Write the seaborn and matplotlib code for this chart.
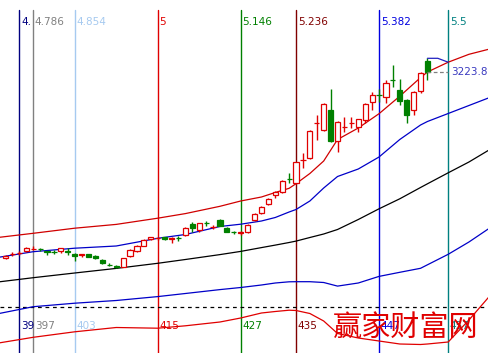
import numpy as np
import pandas as pd
import matplotlib
matplotlib.use("Agg")
import matplotlib.pyplot as plt
import seaborn as sns

# ---------------- data ----------------
first_bar = 393
opens = [2664.9, 2675.4, 2678.4, 2685.9, 2691.0, 2691.9, 2684.4, 2682.9, 2685.9, 2684.4,
         2676.0, 2674.5, 2677.8, 2670.9, 2658.9, 2644.5, 2639.4, 2638.8, 2670.9, 2686.8,
         2700.9, 2721.9, 2723.4, 2726.4, 2721.9, 2724.9, 2733.9, 2766.0, 2748.9, 2769.9,
         2757.9, 2778.9, 2755.8, 2742.9, 2740.5, 2743.8, 2778.9, 2799.0, 2826.0, 2852.4,
         2863.8, 2901.9, 2889.0, 2958.0, 2964.9, 3068.4, 3048.9, 3108.9, 3016.8, 3057.9,
         3068.4, 3058.8, 3078.9, 3133.8, 3154.5, 3148.8, 3199.5, 3168.9, 3138.9, 3108.9,
         3165.9, 3255.9]
closes = [2669.4, 2676.9, 2679.9, 2695.8, 2691.9, 2690.4, 2682.9, 2681.4, 2694.0, 2682.9,
          2670.9, 2676.9, 2668.8, 2664.0, 2649.0, 2643.0, 2637.9, 2664.0, 2688.9, 2700.9,
          2718.9, 2726.4, 2724.3, 2721.0, 2725.5, 2723.4, 2754.9, 2754.0, 2769.0, 2768.4,
          2758.8, 2761.8, 2743.8, 2741.4, 2742.9, 2763.9, 2796.9, 2818.8, 2841.9, 2863.8,
          2896.8, 2900.4, 2952.0, 2958.9, 3045.9, 3069.3, 3126.9, 3016.8, 3072.0, 3058.8,
          3069.3, 3081.0, 3126.0, 3153.9, 3153.3, 3189.0, 3198.3, 3136.8, 3093.9, 3163.8,
          3220.8, 3223.8]
highs = [2672.4, 2682.9, 2685.9, 2697.9, 2699.4, 2694.9, 2684.4, 2687.4, 2694.9, 2694.9,
         2678.4, 2676.9, 2677.8, 2673.9, 2660.4, 2648.4, 2642.4, 2664.9, 2691.9, 2702.4,
         2720.4, 2727.9, 2727.9, 2727.9, 2726.4, 2730.9, 2756.4, 2773.8, 2769.9, 2775.9,
         2762.4, 2780.4, 2756.4, 2745.9, 2744.4, 2765.4, 2798.4, 2820.9, 2843.4, 2865.9,
         2898.9, 2919.9, 2952.9, 2979.9, 3047.4, 3093.9, 3128.4, 3171.0, 3074.4, 3087.0,
         3087.0, 3081.9, 3128.4, 3163.8, 3171.0, 3198.9, 3243.9, 3201.9, 3140.4, 3165.9,
         3222.9, 3264.0]
lows = [2661.9, 2670.9, 2673.9, 2682.9, 2688.9, 2685.9, 2672.4, 2676.9, 2679.9, 2673.9,
        2655.9, 2667.9, 2667.9, 2660.4, 2646.9, 2639.4, 2633.4, 2637.9, 2667.9, 2682.9,
        2699.4, 2718.9, 2718.9, 2718.9, 2709.9, 2714.4, 2730.9, 2743.8, 2742.9, 2760.9,
        2751.9, 2760.9, 2742.9, 2736.9, 2733.9, 2739.0, 2775.9, 2796.9, 2823.9, 2844.9,
        2859.9, 2889.9, 2886.9, 2934.9, 2961.9, 3018.9, 3045.9, 3012.9, 2983.8, 3043.8,
        3054.0, 3043.8, 3069.0, 3108.9, 3133.8, 3129.9, 3178.8, 3123.9, 3070.8, 3093.9,
        3159.9, 3198.9]

line_x = [392, 397, 403, 409, 415, 419, 424, 427, 430, 432, 434, 435, 437, 439, 441,
          444, 447, 450, 453, 454, 457, 460, 463]
upper_red = [2726.7, 2739.0, 2754.3, 2765.7, 2784.3, 2798.1, 2820.0, 2835.9, 2847.9, 2861.4,
             2874.0, 2887.8, 2918.4, 2955.9, 3020.4, 3054.9, 3097.8, 3150.3, 3206.1, 3222.9,
             3252.3, 3276.0, 3291.9]
upper_blue = [2667.0, 2683.8, 2694.3, 2700.9, 2724.0, 2735.4, 2759.4, 2766.3, 2775.9, 2786.4,
              2802.9, 2810.4, 2835.9, 2874.9, 2909.4, 2931.9, 2967.9, 3020.4, 3063.9, 3074.4,
              3098.4, 3122.4, 3146.4]
mid_black = [2593.2, 2605.8, 2619.9, 2633.7, 2649.0, 2660.4, 2675.1, 2684.7, 2696.1, 2703.6,
             2711.4, 2715.6, 2726.4, 2736.9, 2750.4, 2780.4, 2812.5, 2842.5, 2876.4, 2887.5,
             2920.5, 2952.9, 2990.1]
lower_blue = [2498.1, 2518.8, 2529.3, 2537.4, 2549.1, 2558.4, 2570.1, 2576.4, 2583.9, 2589.9,
              2593.5, 2593.8, 2593.8, 2591.4, 2580.6, 2589.9, 2609.7, 2622.0, 2634.0, 2644.5,
              2676.0, 2712.9, 2754.9]
lower_red = [2409.9, 2427.0, 2443.5, 2456.4, 2454.3, 2461.5, 2472.9, 2484.9, 2499.9, 2504.4,
             2508.3, 2507.4, 2498.4, 2475.9, 2438.4, 2424.9, 2415.9, 2406.9, 2405.4, 2406.9,
             2412.9, 2478.9, 2550.9]

ref_level = 2517.0  # horizontal dashed line
last_price_label = "3223.8"

vline_idx = [395, 397, 403, 415, 427, 435, 447, 457]
top_labels = ["4.", "4.786", "4.854", "5", "5.146", "5.236", "5.382", "5.5"]
bottom_labels = ["39", "397", "403", "415", "427", "435", "447", "457"]
vline_colors = ["#000080", "#808080", "#a6caf0", "#e00000", "#008000", "#800000",
                "#0000e0", "#008080"]

watermark = "赢家财富网"

# ---------------- figure ----------------
sns.set_style("white")
plt.rcParams["font.family"] = ["DejaVu Sans"]
fig = plt.figure(figsize=(4.89, 3.53), dpi=100)
ax = fig.add_axes([0, 0, 1, 1])

X_MIN, X_MAX = 392.2, 462.9
Y_MIN, Y_MAX = 2379.9, 3438.9

# band lines through seaborn
names = ["upper_red", "upper_blue", "mid_black", "lower_blue", "lower_red"]
series = [upper_red, upper_blue, mid_black, lower_blue, lower_red]
long = pd.concat([pd.DataFrame({"x": line_x, "y": s, "line": n, "order": range(len(line_x))})
                  for n, s in zip(names, series)], ignore_index=True)
palette = {"upper_red": "#d00000", "upper_blue": "#0000c8", "mid_black": "#000000",
           "lower_blue": "#0000c8", "lower_red": "#e00000"}
sns.lineplot(data=long, x="x", y="y", hue="line", palette=palette, units="line",
             estimator=None, sort=False, linewidth=0.9, legend=False, ax=ax, zorder=3)

# dashed reference line
ax.axhline(ref_level, color="black", lw=0.9, ls=(0, (3, 3)), zorder=2)

# vertical lines + labels
for xi, col, tl, bl in zip(vline_idx, vline_colors, top_labels, bottom_labels):
    ax.axvline(xi, ymin=0, ymax=1 - 10 / 353, color=col, lw=1.0, zorder=1)
    tr = ax.get_xaxis_transform()
    ax.annotate(tl, xy=(xi, 1 - 22 / 353), xycoords=tr, xytext=(1.2, 0),
                textcoords="offset points", ha="left", va="center",
                fontsize=7.5, color=col, zorder=6)
    ax.annotate(bl, xy=(xi, 1 - 326 / 353), xycoords=tr, xytext=(1.2, 0),
                textcoords="offset points", ha="left", va="center",
                fontsize=7.5, color=col, zorder=6)

# candles
idx = np.arange(first_bar, first_bar + len(opens))
RED, GREEN = "#e00000", "#008000"
w = 0.74
for i, o, c, h, l in zip(idx, opens, closes, highs, lows):
    up = c >= o
    col = RED if up else GREEN
    ax.vlines(i, l, h, color=col, lw=1.0, zorder=4)
    bottom = min(o, c)
    height = max(abs(c - o), 0.8)
    face = "white" if (up and abs(c - o) > 4) else col
    ax.bar(i, height, bottom=bottom, width=w, color=face, edgecolor=col,
           linewidth=0.9, zorder=5)

# last-price marker
li = idx[-1]
ax.plot([li, li + 1.5, vline_idx[-1]], [highs[-1], highs[-1], upper_red[20]],
        color="#2020c0", lw=0.9, zorder=6)
ax.plot([li, vline_idx[-1]], [closes[-1], closes[-1]], color="#808080", lw=0.9,
        ls=(0, (3, 2)), zorder=6)
ax.annotate(last_price_label, xy=(vline_idx[-1], closes[-1]), xytext=(2, 0),
            textcoords="offset points", ha="left", va="center", fontsize=7.5,
            color="#3a3ac0", zorder=7)

# watermark
ax.text(333 / 489, 1 - 328 / 353, watermark, transform=ax.transAxes,
        family=["Noto Sans CJK SC", "DejaVu Sans"], fontsize=21, color="#e00000",
        fontweight="light", ha="left", va="center", zorder=8)

ax.set_xlim(X_MIN, X_MAX)
ax.set_ylim(Y_MIN, Y_MAX)
ax.axis("off")
fig.savefig("out.png", dpi=100, facecolor="white")
